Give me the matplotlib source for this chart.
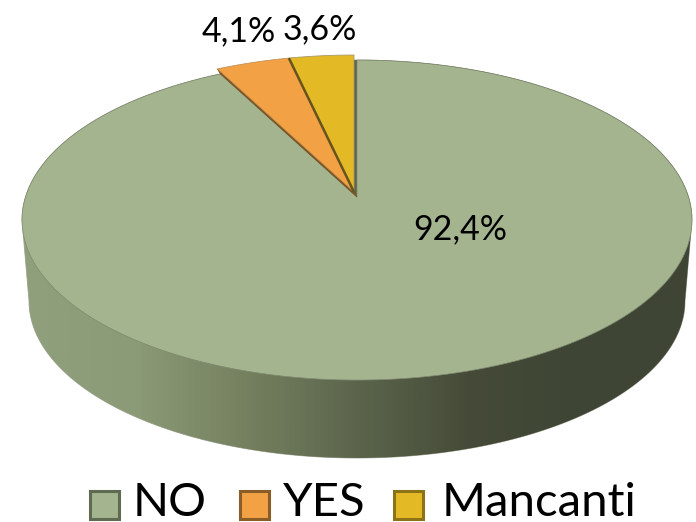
import numpy as np
import matplotlib
matplotlib.use('Agg')
import matplotlib.pyplot as plt
from matplotlib.colors import LinearSegmentedColormap
from matplotlib.patches import Polygon, Rectangle

plt.rcParams['font.family'] = ['Lato', 'DejaVu Sans']

# Chart data
labels = ['NO', 'YES', 'Mancanti']
values = [92.4, 4.1, 3.6]
value_labels = ['92,4%', '4,1%', '3,6%']

# Colours
top_colors = ['#a4b48f', '#f2a144', '#e4b926']
edge_colors = ['#5f6b50', '#8a5c26', '#8c7416']
wall_colors = ['#909f7c', '#8b9a77', '#75805f', '#5c654c', '#454b38', '#3f4534', '#3f4534']

# Pie geometry in pixels, the perspective comes from a circle-to-ellipse mapping
apex_x, apex_y = 357, 197
scale_x, scale_y, persp = 331.5, 156.7, 0.144
explode_dx, explode_dy = -3, -5


def rim(angle):
    # angle in radians, clockwise from twelve o'clock
    u = np.sin(angle)
    v = np.cos(angle)
    d = 1 + persp * v
    return apex_x + scale_x * u / d, apex_y - scale_y * v / d


def wedge_points(a0, a1, dx=0, dy=0):
    t = np.linspace(a0, a1, 300)
    x, y = rim(t)
    x = np.r_[apex_x, x] + dx
    y = np.r_[apex_y, y] + dy
    return np.c_[x, y]


fig = plt.figure(figsize=(6.96, 5.22), dpi=100)
ax = fig.add_axes([0, 0, 1, 1])
ax.set_xlim(0, 696)
ax.set_ylim(522, 0)
ax.axis('off')

# Side wall: upper half of the top ellipse, then lower half of a slightly smaller one
t = np.linspace(-np.pi / 2, np.pi / 2, 200)
wall_x = np.r_[357 + 335 * np.sin(t), 357 + 328 * np.sin(t[::-1])]
wall_y = np.r_[220 - 160 * np.cos(t), 301 + 157 * np.cos(t[::-1])]
wall = Polygon(np.c_[wall_x, wall_y], closed=True, fc='none', ec='#a9aba0', lw=0.6, zorder=1)
ax.add_patch(wall)
cmap = LinearSegmentedColormap.from_list('wall', wall_colors)
img = ax.imshow(np.linspace(0, 1, 400).reshape(1, -1), cmap=cmap, aspect='auto',
                extent=[22, 692, 458, 60], zorder=1)
img.set_clip_path(wall)
ax.set_xlim(0, 696)
ax.set_ylim(522, 0)

# Slices, clockwise from the top
shares = np.array(values) / sum(values)
ends = np.cumsum(shares) * 2 * np.pi
starts = np.r_[0, ends[:-1]]

ax.add_patch(Polygon(wedge_points(starts[0], ends[0]), closed=True, fc=top_colors[0],
                     ec='#7f8a70', lw=0.5, zorder=2))

# Cut face of the exploded YES slice, seen in the gap next to NO
rx, ry = rim(starts[1])
face = [(apex_x, apex_y), (apex_x + explode_dx, apex_y + explode_dy),
        (rx + explode_dx, ry + explode_dy), (rx, ry)]
ax.add_patch(Polygon(face, closed=True, fc='#7d5320', ec='#7d5320', lw=0.5, zorder=3))

ax.add_patch(Polygon(wedge_points(starts[1], ends[1], explode_dx, explode_dy), closed=True,
                     fc=top_colors[1], ec='#b98a50', lw=0.5, zorder=4))
ax.add_patch(Polygon(wedge_points(starts[2], ends[2], explode_dx, explode_dy), closed=True,
                     fc=top_colors[2], ec='#a89a66', lw=0.6, zorder=4))

# Dark seam between YES and Mancanti
sx, sy = rim(starts[2])
ax.plot([apex_x + explode_dx, sx + explode_dx], [apex_y + explode_dy, sy + explode_dy],
        color='#66541c', lw=1.8, solid_capstyle='butt', zorder=5)

# Value labels
label_pos = [(460, 229), (239, 31), (320, 29)]
for txt, (x, y) in zip(value_labels, label_pos):
    ax.text(x, y, txt, ha='center', va='center', fontsize=24.5, color='black', zorder=6)

# Legend
box_x = [90, 240, 394]
text_x = [133, 283, 442]
for lab, bx, tx, fc, ec in zip(labels, box_x, text_x, top_colors, edge_colors):
    ax.add_patch(Rectangle((bx, 491), 29, 28, fc=fc, ec=ec, lw=2.2, zorder=6))
    ax.text(tx, 503, lab, ha='left', va='center', fontsize=34, color='black', zorder=6)

fig.savefig('out.png', dpi=100)
